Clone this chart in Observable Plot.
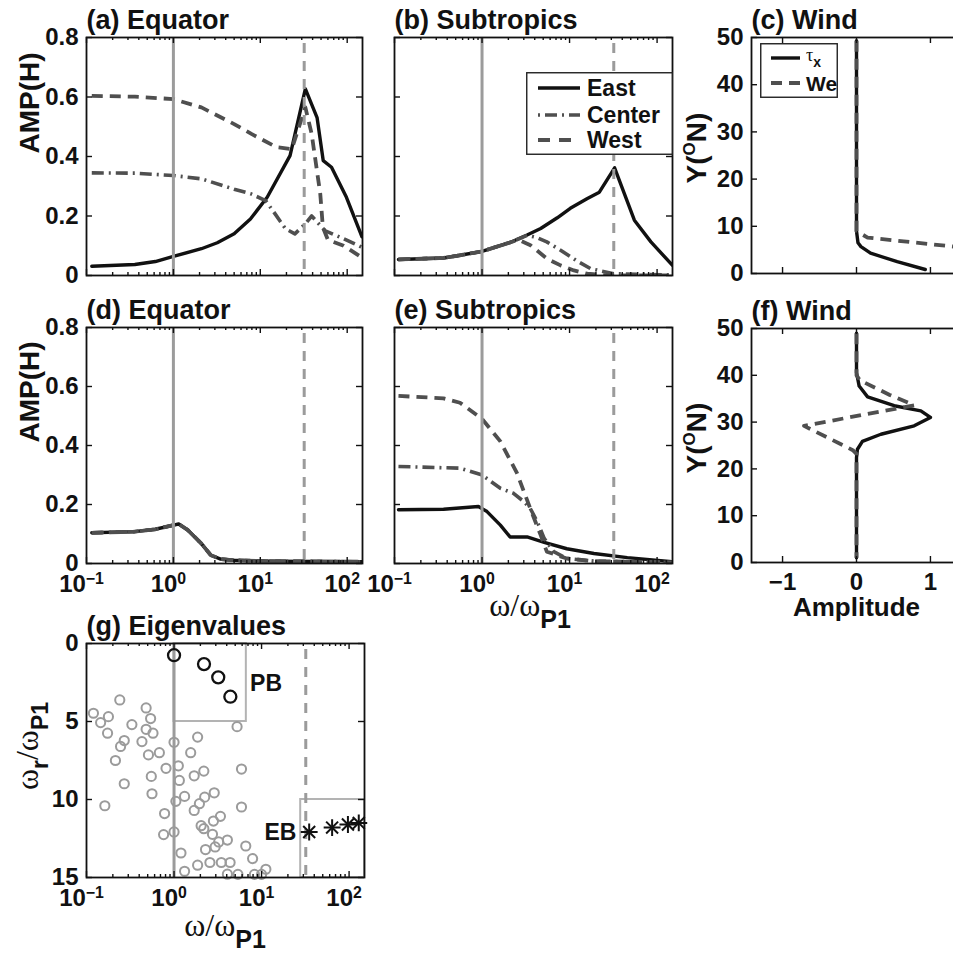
<!DOCTYPE html>
<html lang="en">
<head>
<meta charset="utf-8">
<title>Response amplitude, wind forcing and eigenvalues</title>
<script src="https://cdn.jsdelivr.net/npm/d3@7"></script>
<script src="https://cdn.jsdelivr.net/npm/@observablehq/plot@0.6"></script>
<style>
  html, body { margin: 0; padding: 0; background: #fff; overflow: hidden; }
  #fig { position: relative; width: 953px; height: 955px; overflow: hidden;
         font-family: "Liberation Sans", Arial, Helvetica, sans-serif; font-weight: bold; color: #111; }
  .lab { position: absolute; white-space: nowrap; line-height: 1; }
  .greek { font-family: "Liberation Serif", "Times New Roman", serif; font-weight: normal; }
  .rot { transform: translate(-50%, -50%) rotate(-90deg); }
  .ctr { transform: translate(-50%, 0); }
</style>
</head>
<body>
<div id="fig"></div>
<script>
// ---------- ticks ----------
const logMajor = [0.1, 1, 10, 100];
const logMinor = [0.2, 0.3, 0.4, 0.5, 0.6, 0.7, 0.8, 0.9,
                  2, 3, 4, 5, 6, 7, 8, 9,
                  20, 30, 40, 50, 60, 70, 80, 90];
const ampTicks = [0, 0.2, 0.4, 0.6, 0.8];
const latTicks = [0, 10, 20, 30, 40, 50];
const windTicks = [-1, 0, 1];
const eigTicks = [0, 5, 10, 15];

// reference frequencies (ω/ωP1): first basin mode and eastern-boundary band
const refSolid = [1];
const refDashed = [32];

// ---------- (a) Equator, wind over equator: [ω/ωP1, AMP(H)] ----------
const eqEast = [[0.115,0.031],[0.36,0.037],[0.62,0.047],[1.0,0.064],[2.1,0.09],[3.2,0.11],[5.0,0.14],
                [7.7,0.19],[12,0.263],[22,0.403],[33,0.627],[45,0.531],[53,0.386],[66,0.364],[98,0.263],[148,0.13]];
const eqCenter = [[0.115,0.345],[0.36,0.344],[1.0,0.336],[2.1,0.325],[5.0,0.29],[7.7,0.275],[11.5,0.252],
                  [14.8,0.207],[19.5,0.157],[25,0.14],[33,0.174],[39,0.2],[56,0.15],[89,0.125],[148,0.095]];
const eqWest = [[0.115,0.604],[0.36,0.601],[1.0,0.593],[2.1,0.565],[5.0,0.509],[8,0.475],[15.5,0.431],
                [23,0.425],[33,0.565],[39,0.476],[49,0.274],[52.5,0.162],[60,0.12],[91,0.1],[148,0.06]];

// ---------- (b) Subtropics, wind over equator ----------
const stEast = [[0.111,0.054],[0.363,0.059],[0.56,0.068],[1.0,0.081],[2.09,0.111],[3.27,0.136],[4.68,0.158],
                [7.24,0.194],[10.2,0.226],[15.8,0.258],[21.9,0.28],[32.7,0.362],[55,0.186],[85,0.113],[150,0.034]];
const stCenter = [[0.111,0.054],[0.363,0.059],[0.56,0.068],[1.0,0.081],[2.09,0.111],[3.27,0.135],[4.2,0.128],
                  [5.5,0.113],[7.9,0.085],[12,0.05],[17.4,0.023],[32,0.006],[150,0.002]];
const stWest = [[0.111,0.054],[0.363,0.059],[0.56,0.068],[1.0,0.081],[2.09,0.111],[2.6,0.12],[3.57,0.102],
                [5.55,0.056],[7.9,0.034],[11.2,0.017],[15.9,0.006],[25,0.001],[150,0]];

// ---------- (c) Wind profile, equatorial forcing: [amplitude, latitude] ----------
const windTauTop = [[0,49.3],[0,9],[0.02,6.5],[0.06,5.7],[0.19,4.3],[0.55,2.5],[0.93,0.85]];
const windWeTop = [[0,49.3],[0,9],[0.15,7.6],[1.32,5.7],[1.6,5.4]];

// ---------- (d) Equator, subtropical forcing (East, Center and West coincide) ----------
const eqLowEast = [[0.115,0.104],[0.36,0.108],[0.62,0.116],[1.0,0.13],[1.15,0.134],[1.47,0.113],[2.09,0.068],
                   [2.7,0.028],[3.5,0.015],[5,0.011],[12,0.008],[148,0.006]];
const eqLowCenter = eqLowEast;
const eqLowWest = eqLowEast;

// ---------- (e) Subtropics, subtropical forcing ----------
const stLowEast = [[0.111,0.182],[0.363,0.184],[0.91,0.193],[1.14,0.176],[1.62,0.13],[2.09,0.09],[3.27,0.09],
                   [5.13,0.072],[9.3,0.05],[19,0.034],[45.7,0.02],[150,0.006]];
const stLowCenter = [[0.111,0.329],[0.56,0.323],[1.0,0.30],[1.62,0.255],[2.29,0.238],[3.0,0.21],[3.55,0.187],
                     [4.27,0.142],[5.13,0.085],[6.6,0.04],[9.3,0.017],[19,0.008],[150,0.004]];
const stLowWest = [[0.111,0.568],[0.363,0.56],[0.56,0.545],[1.0,0.49],[1.62,0.414],[2.51,0.306],[3.55,0.187],
                   [4.68,0.096],[5.5,0.04],[9.3,0.017],[19,0.008],[150,0.004]];

// ---------- (f) Wind profile, subtropical forcing ----------
const windTauLow = [[0,49],[0,40.6],[0.036,37.7],[0.15,35.4],[0.51,33.5],[0.87,32.4],[1.0,31.0],[0.78,29.2],
                    [0.33,27.4],[0.08,25.9],[0.013,24.2],[0,22.4],[0,1]];
const windWeLow = [[0,49],[0,40],[0.05,38.9],[0.45,35.8],[0.78,33.6],[-0.71,29.2],[-0.05,24],[0,23.2],[0,1]];

// ---------- (g) Eigenvalues: [ω/ωP1, ωr/ωP1] ----------
const eigOther = [[0.24,3.62],[0.12,4.47],[0.178,4.69],[0.145,5.07],[0.48,4.13],[0.54,4.81],[0.33,5.2],[0.48,5.5],
  [0.575,5.75],[0.174,5.75],[0.27,6.22],[0.245,6.6],[0.43,6.29],[1.0,6.33],[1.86,6.0],[1.55,7.0],[0.68,7.0],
  [0.51,7.14],[0.214,7.5],[0.81,8.0],[1.12,7.84],[0.55,8.52],[1.7,8.48],[2.19,8.18],[1.15,8.78],[0.27,8.99],
  [0.56,9.63],[1.32,9.8],[2.24,9.85],[2.88,9.57],[0.162,10.4],[1.05,10.12],[1.95,10.27],[1.7,10.7],[0.78,10.9],
  [2.04,11.68],[2.19,11.87],[2.82,11.38],[3.39,11.08],[0.76,12.25],[1.0,12.08],[2.75,12.23],[3.24,12.72],
  [2.29,13.21],[2.95,13.04],[1.2,13.43],[1.86,14.21],[2.57,14.04],[3.47,14.04],[1.32,14.6],[5.25,5.33],
  [5.9,8.05],[5.9,10.48],[4.07,12.6],[6.6,12.98],[7.9,13.79],[4.37,14.04],[4.07,14.79],[5.37,14.8],
  [8.3,14.8],[11.2,14.47],[10,14.8]];
const eigPB = [[1.0,0.75],[2.2,1.32],[3.2,2.17],[4.4,3.41]];
const eigEB = [[35,12.08],[64,11.8],[97,11.6],[129,11.5]];
const bandBoxes = [{x1: 1, x2: 6.7, y1: 0, y2: 5}, {x1: 28, x2: 150, y1: 10, y2: 15}];
const bandPB = [{label: "PB", x: 7.4, y: 2.6}];
const bandEB = [{label: "EB", x: 25, y: 12.1}];

// ---------- styling ----------
const FONT = '"Liberation Sans", Arial, Helvetica, sans-serif';
const INK = "#111", DARK = "#4f4f4f", LIGHT = "#9b9b9b", BOX = "#b3b3b3";
const DASH_WEST = "11,7", DASH_CENTER = "12,5,2,5", DASH_REF = "10,8";
const LOGX = {type: "log", domain: [0.1, 150]};

const fig = document.getElementById("fig");

function superscripts(svg) {
  svg.querySelectorAll("text").forEach(t => {
    const m = /^10\^(.+)$/.exec(t.textContent);
    if (!m) return;
    t.textContent = "10";
    const s = document.createElementNS("http://www.w3.org/2000/svg", "tspan");
    s.setAttribute("dy", "-0.5em");
    s.setAttribute("font-size", "0.66em");
    s.textContent = m[1].replace("-", "\u2212");
    t.appendChild(s);
  });
}

function panel({left, top, fw, fh, ml, mr, mt, mb, x, y, marks}) {
  const svg = Plot.plot({
    width: ml + fw + mr, height: mt + fh + mb,
    marginLeft: ml, marginRight: mr, marginTop: mt, marginBottom: mb,
    x: {...x, axis: null}, y: {...y, axis: null},
    style: {background: "transparent", fontFamily: FONT, fontWeight: "bold", fontSize: "24px", color: INK, overflow: "visible"},
    marks
  });
  svg.style.position = "absolute";
  svg.style.left = (left - ml) + "px";
  svg.style.top = (top - mt) + "px";
  svg.style.maxWidth = "none";
  superscripts(svg);
  fig.appendChild(svg);
  return svg;
}

// inward ticks on both opposite sides of the frame
function ticksX(values, fh, len) {
  return [
    Plot.tickX(values, {x: d => d, insetTop: fh - len, stroke: INK, strokeWidth: 1.4}),
    Plot.tickX(values, {x: d => d, insetBottom: fh - len, stroke: INK, strokeWidth: 1.4})
  ];
}
function ticksY(values, fw, len) {
  return [
    Plot.tickY(values, {y: d => d, insetRight: fw - len, stroke: INK, strokeWidth: 1.4}),
    Plot.tickY(values, {y: d => d, insetLeft: fw - len, stroke: INK, strokeWidth: 1.4})
  ];
}
function logFrameTicks(fh) { return [...ticksX(logMajor, fh, 6), ...ticksX(logMinor, fh, 3)]; }

function east(data) {
  return Plot.line(data, {x: d => d[0], y: d => d[1], stroke: INK, strokeWidth: 3.4, clip: true});
}
function center(data) {
  return Plot.line(data, {x: d => d[0], y: d => d[1], stroke: DARK, strokeWidth: 3.6,
    strokeDasharray: DASH_CENTER, strokeLinecap: "butt", clip: true});
}
function west(data) {
  return Plot.line(data, {x: d => d[0], y: d => d[1], stroke: DARK, strokeWidth: 3.8,
    strokeDasharray: DASH_WEST, strokeLinecap: "butt", clip: true});
}
function refLines() {
  return [
    Plot.ruleX(refSolid, {x: d => d, stroke: LIGHT, strokeWidth: 3}),
    Plot.ruleX(refDashed, {x: d => d, stroke: LIGHT, strokeWidth: 3, strokeDasharray: DASH_REF, strokeDashoffset: -6})
  ];
}
function title(t) {
  return Plot.text([t], {text: d => d, frameAnchor: "top-left", textAnchor: "start", lineAnchor: "bottom",
    dy: -9, fontSize: 27});
}
function ylabel(t, dx) {
  return Plot.text([t], {text: d => d, frameAnchor: "left", rotate: -90, dx, dy: -3, lineAnchor: "middle", fontSize: 28});
}
const frame = () => Plot.frame({stroke: INK, strokeWidth: 1.8});
const logLabels = () => Plot.axisX({ticks: logMajor, tickSize: 0, tickPadding: 11, dx: -5,
  tickFormat: d => "10^" + Math.round(Math.log10(d))});
const ampLabels = () => Plot.axisY({ticks: ampTicks, tickSize: 0, tickPadding: 8,
  tickFormat: d => d === 0 ? "0" : d.toFixed(1)});

// (a)
panel({left: 86, top: 37, fw: 276, fh: 238, ml: 86, mr: 6, mt: 37, mb: 4,
  x: LOGX, y: {domain: [0, 0.8]},
  marks: [east(eqEast), center(eqCenter), west(eqWest), ...refLines(),
    ...logFrameTicks(238), ...ticksY(ampTicks, 276, 6), frame(), ampLabels(),
    title("(a) Equator"), ylabel("AMP(H)", -56)]});

// (b)
panel({left: 394, top: 37, fw: 278, fh: 238, ml: 10, mr: 6, mt: 37, mb: 4,
  x: LOGX, y: {domain: [0, 0.8]},
  marks: [east(stEast), center(stCenter), west(stWest), ...refLines(),
    ...logFrameTicks(238), ...ticksY(ampTicks, 278, 6), frame(), title("(b) Subtropics")]});

// (c)
panel({left: 751, top: 37, fw: 210, fh: 236, ml: 80, mr: 6, mt: 37, mb: 4,
  x: {domain: [-1.42, 1.42]}, y: {domain: [0, 50]},
  marks: [east(windTauTop), west(windWeTop),
    ...ticksX(windTicks, 236, 6), ...ticksY(latTicks, 210, 6), frame(),
    Plot.axisY({ticks: latTicks, tickSize: 0, tickPadding: 8}), title("(c) Wind")]});

// (d)
panel({left: 86, top: 327, fw: 276, fh: 236, ml: 86, mr: 6, mt: 40, mb: 40,
  x: LOGX, y: {domain: [0, 0.8]},
  marks: [east(eqLowEast), center(eqLowCenter), west(eqLowWest), ...refLines(),
    ...logFrameTicks(236), ...ticksY(ampTicks, 276, 6), frame(), ampLabels(), logLabels(),
    title("(d) Equator"), ylabel("AMP(H)", -56)]});

// (e)
panel({left: 394, top: 327, fw: 278, fh: 236, ml: 30, mr: 20, mt: 40, mb: 40,
  x: LOGX, y: {domain: [0, 0.8]},
  marks: [east(stLowEast), center(stLowCenter), west(stLowWest), ...refLines(),
    ...logFrameTicks(236), ...ticksY(ampTicks, 278, 6), frame(), logLabels(), title("(e) Subtropics")]});

// (f)
panel({left: 751, top: 328, fw: 210, fh: 234, ml: 80, mr: 6, mt: 40, mb: 62,
  x: {domain: [-1.42, 1.42]}, y: {domain: [0, 50]},
  marks: [east(windTauLow), west(windWeLow),
    ...ticksX(windTicks, 234, 6), ...ticksY(latTicks, 210, 6), frame(),
    Plot.axisY({ticks: latTicks, tickSize: 0, tickPadding: 8}),
    Plot.axisX({ticks: windTicks, tickSize: 0, tickPadding: 10, tickFormat: d => d < 0 ? "\u2212" + (-d) : String(d)}),
    Plot.text(["Amplitude"], {text: d => d, frameAnchor: "bottom", lineAnchor: "top", dy: 35, fontSize: 26}),
    title("(f) Wind")]});

// (g)
panel({left: 86, top: 643, fw: 278, fh: 234, ml: 86, mr: 20, mt: 40, mb: 40,
  x: LOGX, y: {domain: [0, 15], reverse: true},
  marks: [
    Plot.rect(bandBoxes, {x1: "x1", x2: "x2", y1: "y1", y2: "y2", stroke: BOX, strokeWidth: 2, fill: "none"}),
    ...refLines(),
    Plot.dot(eigOther, {x: d => d[0], y: d => d[1], r: 4.6, stroke: LIGHT, strokeWidth: 2}),
    Plot.dot(eigPB, {x: d => d[0], y: d => d[1], r: 6, stroke: INK, strokeWidth: 2.3}),
    Plot.dot(eigEB, {x: d => d[0], y: d => d[1], symbol: "plus", r: 5.5, stroke: INK, strokeWidth: 2}),
    Plot.dot(eigEB, {x: d => d[0], y: d => d[1], symbol: "times", r: 5.5, stroke: INK, strokeWidth: 2}),
    Plot.text(bandPB, {x: "x", y: "y", text: "label", textAnchor: "start", fontSize: 23}),
    Plot.text(bandEB, {x: "x", y: "y", text: "label", textAnchor: "end", fontSize: 23}),
    ...logFrameTicks(234), ...ticksY(eigTicks, 278, 6), frame(), logLabels(),
    Plot.axisY({ticks: eigTicks, tickSize: 0, tickPadding: 8}),
    title("(g) Eigenvalues")]});

// ---------- rich-text axis labels ----------
function label(html, left, top, cls) {
  const d = document.createElement("div");
  d.className = "lab " + cls;
  d.style.left = left + "px";
  d.style.top = top + "px";
  d.innerHTML = html;
  fig.appendChild(d);
}
const omegaRatio = '<span class="greek" style="font-size:32px">ω/ω</span>' +
  '<span style="font-size:25px;position:relative;top:12px">P1</span>';
label(omegaRatio, 530, 589, "ctr");
label(omegaRatio, 225, 909, "ctr");
label('<span class="greek" style="font-size:32px">ω</span><span style="font-size:23px;position:relative;top:10px">r</span>' +
      '<span class="greek" style="font-size:32px">/ω</span><span style="font-size:23px;position:relative;top:10px">P1</span>',
      27, 746, "rot");
const latLabel = '<span style="font-size:28px">Y(<span style="font-size:17px;position:relative;top:-11px">O</span>N)</span>';
label(latLabel, 697, 148, "rot");
label(latLabel, 697, 438, "rot");

// ---------- legends ----------
const SVGNS = "http://www.w3.org/2000/svg";
function legend({left, top, width, height, rows, x1, x2, tx, size}) {
  const svg = document.createElementNS(SVGNS, "svg");
  svg.setAttribute("width", width);
  svg.setAttribute("height", height);
  svg.style.position = "absolute";
  svg.style.left = left + "px";
  svg.style.top = top + "px";
  const g = d3.select(svg);
  g.append("rect").attr("x", 0.75).attr("y", 0.75).attr("width", width - 1.5).attr("height", height - 1.5)
    .attr("fill", "#fff").attr("stroke", "#222").attr("stroke-width", 1.4);
  for (const r of rows) {
    g.append("line").attr("x1", x1).attr("x2", x2).attr("y1", r.y).attr("y2", r.y)
      .attr("stroke", r.stroke).attr("stroke-width", r.width).attr("stroke-dasharray", r.dash || null);
    const t = g.append("text").attr("x", tx).attr("y", r.y + 0.36 * size).attr("font-family", FONT)
      .attr("font-weight", "bold").attr("font-size", size).attr("fill", INK);
    if (r.sub) {
      t.append("tspan").attr("font-family", '"Liberation Serif", serif').attr("font-weight", "normal")
        .attr("font-size", 18).attr("dy", -5).text(r.label);
      t.append("tspan").attr("font-size", 14).attr("dy", 6).text(r.sub);
    } else t.text(r.label);
  }
  fig.appendChild(svg);
}
legend({left: 526, top: 72, width: 147, height: 83, x1: 12, x2: 54, tx: 61, size: 23, rows: [
  {label: "East", y: 16, stroke: INK, width: 3.4},
  {label: "Center", y: 43, stroke: DARK, width: 3.6, dash: "2,5,12,5"},
  {label: "West", y: 68, stroke: DARK, width: 3.8, dash: "12,9"}]});
legend({left: 760, top: 43, width: 78, height: 55, x1: 11, x2: 40, tx: 46, size: 21, rows: [
  {label: "τ", sub: "x", y: 15, stroke: INK, width: 3.4},
  {label: "We", y: 40, stroke: DARK, width: 3.8, dash: "11,7"}]});
</script>
</body>
</html>
